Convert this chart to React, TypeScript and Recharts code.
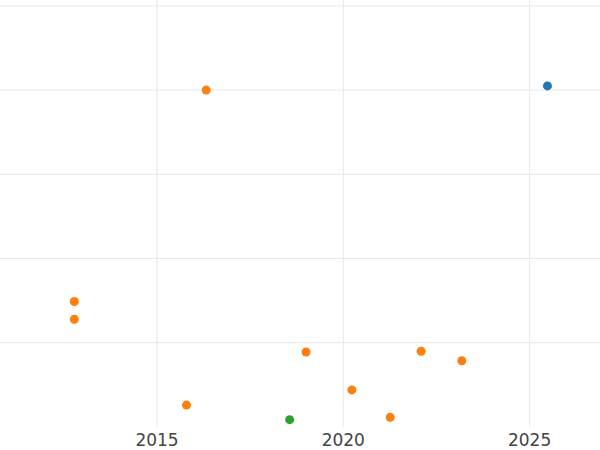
import { ScatterChart, Scatter, XAxis, YAxis, CartesianGrid } from "recharts";

// Jahr / Wert pro Gruppe (y-Einheit frei, Gitter alle 1.0)
const BLAU_JAHR = [2025.48];
const BLAU_WERT = [4.05];

const ORANGE_JAHR = [2016.32, 2012.78, 2012.78, 2015.79, 2019.0, 2020.23, 2021.26, 2022.09, 2023.18];
const ORANGE_WERT = [4.0, 1.49, 1.28, 0.26, 0.89, 0.44, 0.115, 0.9, 0.786];

const GRUEN_JAHR = [2018.56];
const GRUEN_WERT = [0.087];

const X_TICKS = [2015, 2020, 2025];
const Y_GITTER = [1, 2, 3, 4, 5];

const FARBE = {
  blau: "#1f77b4",
  orange: "#ff7f0e",
  gruen: "#2ca02c",
  gitter: "#e8e8e8",
  text: "#444444",
};

const punkte = (jahre: number[], werte: number[]) =>
  jahre.map((jahr, i) => ({ jahr, wert: werte[i] }));

const Punkt = (props: any) => {
  const { cx, cy, fill } = props;
  if (cx == null || cy == null) return null;
  return <circle cx={cx} cy={cy} r={4.5} fill={fill} />;
};

export default function App() {
  return (
    <div style={{ width: 600, height: 450, fontFamily: "DejaVu Sans" }}>
      <style>{`body{margin:0}`}</style>
      <ScatterChart
        width={600}
        height={450}
        margin={{ top: 0, right: 0, left: 0, bottom: 0 }}
      >
        <CartesianGrid
          stroke={FARBE.gitter}
          strokeWidth={1}
          horizontalValues={Y_GITTER}
          verticalValues={X_TICKS}
        />
        <XAxis
          type="number"
          dataKey="jahr"
          domain={[2010.785, 2026.89]}
          ticks={X_TICKS}
          axisLine={false}
          tickLine={false}
          height={23}
          allowDataOverflow
          tick={{ fontSize: 17, fill: FARBE.text, fontFamily: "DejaVu Sans" }}
          tickMargin={1}
        />
        <YAxis
          type="number"
          dataKey="wert"
          domain={[0, 5.07]}
          hide
          allowDataOverflow
        />
        <Scatter
          data={punkte(ORANGE_JAHR, ORANGE_WERT)}
          fill={FARBE.orange}
          shape={Punkt}
          isAnimationActive={false}
        />
        <Scatter
          data={punkte(GRUEN_JAHR, GRUEN_WERT)}
          fill={FARBE.gruen}
          shape={Punkt}
          isAnimationActive={false}
        />
        <Scatter
          data={punkte(BLAU_JAHR, BLAU_WERT)}
          fill={FARBE.blau}
          shape={Punkt}
          isAnimationActive={false}
        />
      </ScatterChart>
    </div>
  );
}
